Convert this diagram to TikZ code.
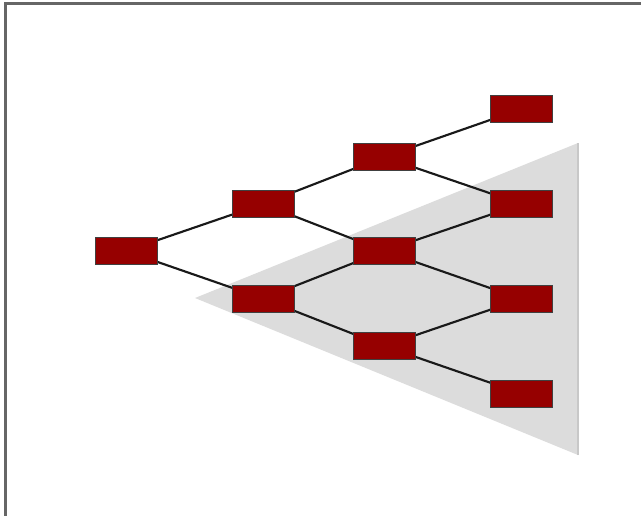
\documentclass[tikz,border=0pt]{standalone}
\begin{document}
\begin{tikzpicture}[x=0.75pt,y=-0.75pt,
  box/.style={draw=black!75,line width=0.6pt,fill=boxred,minimum width=46.5pt,minimum height=20.3pt,inner sep=0pt},
  link/.style={draw=black!90,line width=1.6pt}]
\definecolor{boxred}{HTML}{960000}
\definecolor{tri}{HTML}{DCDCDC}
\definecolor{triedge}{HTML}{C8C8C8}
\definecolor{frame}{HTML}{666666}
\useasboundingbox (0,0) rectangle (641,515);
\clip (0,0) rectangle (641,515);
\draw[frame,line width=1.6pt] (5.5,3.5) rectangle (660,540);
\fill[tri] (195,298) -- (578,143) -- (578,455) -- cycle;
\draw[triedge,line width=0.8pt] (578,143) -- (578,455);
\coordinate (r) at (126,251);
\coordinate (u1) at (263,204);
\coordinate (l1) at (263,298.5);
\coordinate (a2) at (384,157);
\coordinate (b2) at (384,251);
\coordinate (c2) at (384,346);
\coordinate (a3) at (521.5,109);
\coordinate (b3) at (521.5,204);
\coordinate (c3) at (521.5,299);
\coordinate (d3) at (521.5,393.5);
\draw[link] (r) -- (u1);
\draw[link] (r) -- (l1);
\draw[link] (u1) -- (a2);
\draw[link] (u1) -- (b2);
\draw[link] (l1) -- (b2);
\draw[link] (l1) -- (c2);
\draw[link] (a2) -- (a3);
\draw[link] (a2) -- (b3);
\draw[link] (b2) -- (b3);
\draw[link] (b2) -- (c3);
\draw[link] (c2) -- (c3);
\draw[link] (c2) -- (d3);
\node[box] (nr) at (r) {};
\node[box] (nu1) at (u1) {};
\node[box] (nl1) at (l1) {};
\node[box] (na2) at (a2) {};
\node[box] (nb2) at (b2) {};
\node[box] (nc2) at (c2) {};
\node[box] (na3) at (a3) {};
\node[box] (nb3) at (b3) {};
\node[box] (nc3) at (c3) {};
\node[box] (nd3) at (d3) {};
\end{tikzpicture}
\end{document}
